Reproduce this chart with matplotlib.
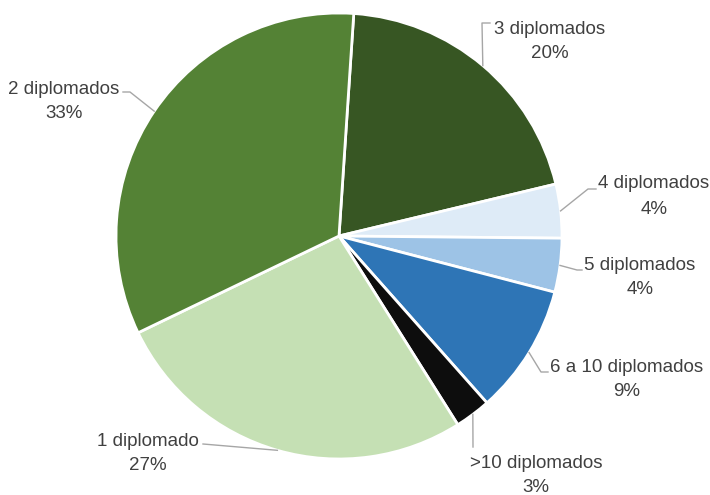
import numpy as np
import matplotlib.pyplot as plt

# share of people by number of diplomas (%)
categorias = ['3 diplomados', '4 diplomados', '5 diplomados', '6 a 10 diplomados',
              '>10 diplomados', '1 diplomado', '2 diplomados']
valores = [20.2, 3.9, 3.9, 9.4, 2.6, 26.8, 33.2]
cores = ['#375623', '#DEEBF7', '#9DC3E6', '#2E75B6', '#0D0D0D', '#C5E0B4', '#548235']

W, H = 710, 495
plt.rcParams['font.family'] = ['Liberation Sans', 'DejaVu Sans']

fig = plt.figure(figsize=(W / 100, H / 100), dpi=100)
ax = fig.add_axes([0, 0, 1, 1])

cx, cy, r = 339, H - 236, 223
wedges, _ = ax.pie(valores, colors=cores, startangle=86.2, counterclock=False,
                   center=(cx, cy), radius=r, frame=True,
                   wedgeprops=dict(edgecolor='white', linewidth=2))
ax.set_xlim(0, W)
ax.set_ylim(0, H)
ax.set_aspect('equal')
ax.axis('off')

# label layout in pixel coords (x centre, y of first line) and leader path
rotulos = {
    '3 diplomados': ((550, 29), [(490, 23), (482, 23)]),
    '4 diplomados': ((654, 184), [(596, 189), (588, 189)]),
    '5 diplomados': ((640, 265), [(582, 270), (577, 270)]),
    '6 a 10 diplomados': ((627, 367), [(548, 372), (541, 372)]),
    '>10 diplomados': ((536, 463), [(473, 447)]),
    '1 diplomado': ((148, 441), [(203, 444)]),
    '2 diplomados': ((64, 89), [(123, 92), (130, 92)]),
}

for w, nome, v in zip(wedges, categorias, valores):
    (tx, ty), path = rotulos[nome]
    ax.text(tx, H - ty, nome, ha='center', va='center', fontsize=13.5, color='#404040')
    ax.text(tx, H - ty - 25, f'{v:.0f}%', ha='center', va='center', fontsize=13.5, color='#404040')
    # leader line ends on the pie edge at the middle of the wedge
    ang = np.deg2rad((w.theta1 + w.theta2) / 2)
    ex, ey = cx + r * np.cos(ang), cy + r * np.sin(ang)
    xs = [p[0] for p in path] + [ex]
    ys = [H - p[1] for p in path] + [ey]
    ax.plot(xs, ys, color='#A6A6A6', linewidth=1)

fig.savefig('out.png', dpi=100)
